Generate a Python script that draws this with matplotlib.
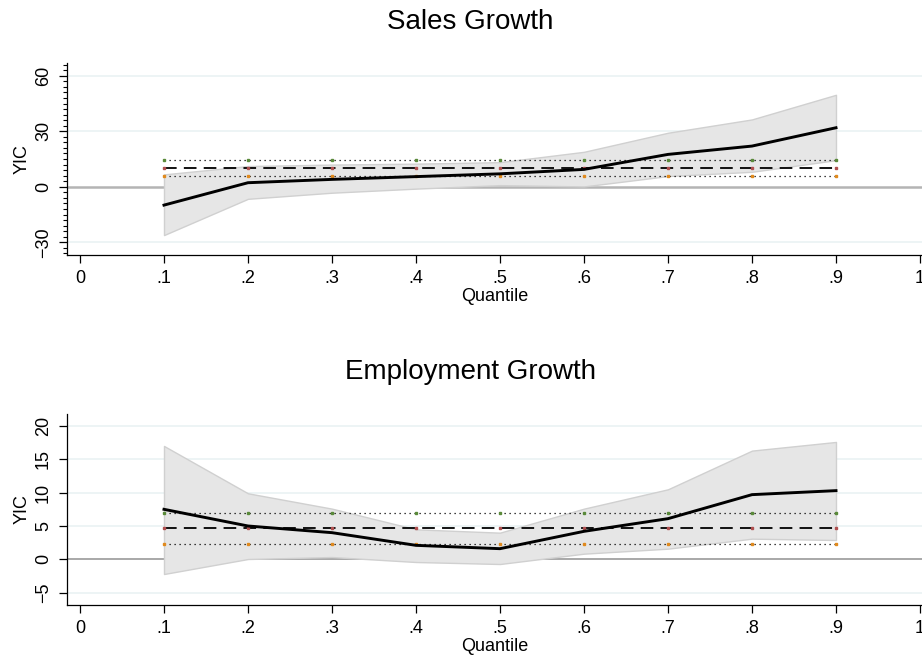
import numpy as np
import matplotlib
matplotlib.use("Agg")
import matplotlib.pyplot as plt
from matplotlib.ticker import MultipleLocator

plt.rcParams['font.family'] = ['Liberation Sans', 'DejaVu Sans']

quantiles = [0.1, 0.2, 0.3, 0.4, 0.5, 0.6, 0.7, 0.8, 0.9]

# Sales growth: quantile estimates and confidence band
sales_coef = [-9.9, 2.2, 4.0, 5.5, 7.0, 9.4, 17.5, 22.0, 31.9]
sales_hi = [6.7, 11.2, 12.0, 12.5, 13.3, 18.9, 29.2, 36.4, 49.7]
sales_lo = [-26.1, -6.5, -3.2, -1.0, 0.9, 0.2, 5.8, 8.1, 14.4]
sales_ols = 10.1
sales_ols_hi = 14.4
sales_ols_lo = 5.6

# Employment growth
emp_coef = [7.5, 5.0, 4.0, 2.1, 1.6, 4.2, 6.1, 9.7, 10.3]
emp_hi = [17.0, 9.9, 7.6, 4.5, 4.0, 7.6, 10.5, 16.3, 17.6]
emp_lo = [-2.2, 0.05, 0.35, -0.4, -0.7, 0.85, 1.6, 3.1, 2.9]
emp_ols = 4.7
emp_ols_hi = 7.0
emp_ols_lo = 2.3

xticks = [0, 0.1, 0.2, 0.3, 0.4, 0.5, 0.6, 0.7, 0.8, 0.9, 1.0]
xticklabels = ["0", ".1", ".2", ".3", ".4", ".5", ".6", ".7", ".8", ".9", "1"]

fig = plt.figure(figsize=(9.22, 6.56), dpi=100)
ax1 = fig.add_axes([0.073, 0.612, 0.927, 0.292])
ax2 = fig.add_axes([0.073, 0.0785, 0.927, 0.2905])


def panel(ax, coef, hi, lo, ols, ols_hi, ols_lo, yticks, ylim, zero_lw, zero_col, minor=None):
    for y in yticks:
        if y != 0:
            ax.axhline(y, color="#eaf2f3", lw=1.2, zorder=0)
    ax.axhline(0, color=zero_col, lw=zero_lw, zorder=1)
    ax.fill_between(quantiles, lo, hi, facecolor="#e6e6e6", edgecolor="#d0d0d0", lw=1.0, zorder=2)
    n = len(quantiles)
    ax.plot(quantiles, [ols_hi] * n, color="black", lw=0.9, ls=(0, (1, 3)), zorder=3)
    ax.plot(quantiles, [ols_lo] * n, color="black", lw=0.9, ls=(0, (1, 3)), zorder=3)
    ax.plot(quantiles, [ols] * n, color="black", lw=1.3, ls=(0, (7, 4)), zorder=3)
    ax.plot(quantiles, [ols_hi] * n, ls="none", marker="s", ms=1.5, color="#5a8a3a", zorder=4)
    ax.plot(quantiles, [ols] * n, ls="none", marker="s", ms=1.5, color="#b05050", zorder=4)
    ax.plot(quantiles, [ols_lo] * n, ls="none", marker="s", ms=1.5, color="#e08a1e", zorder=4)
    ax.plot(quantiles, coef, color="black", lw=2.1, zorder=5)

    ax.set_xlim(-0.0151, 1.0024)
    ax.set_ylim(*ylim)
    ax.set_xticks(xticks)
    ax.set_xticklabels(xticklabels)
    ax.set_yticks(yticks)
    ax.set_yticklabels([str(y).replace("-", "\u2212") for y in yticks], rotation=90, va="center")
    if minor:
        ax.yaxis.set_minor_locator(MultipleLocator(minor))
        ax.tick_params(axis="y", which="minor", length=3, width=0.8)
    ax.tick_params(axis="both", which="major", labelsize=13, length=6, width=0.9, pad=5)
    ax.spines["top"].set_visible(False)
    ax.spines["right"].set_visible(False)
    ax.spines["left"].set_linewidth(0.9)
    ax.spines["bottom"].set_linewidth(0.9)
    ax.set_xlabel("Quantile", fontsize=13, labelpad=1)
    ax.set_ylabel("YIC", fontsize=13, labelpad=3)


panel(ax1, sales_coef, sales_hi, sales_lo, sales_ols, sales_ols_hi, sales_ols_lo,
      [-30, 0, 30, 60], (-36.6, 66.9), 1.8, "#b4b4b4", minor=3)
panel(ax2, emp_coef, emp_hi, emp_lo, emp_ols, emp_ols_hi, emp_ols_lo,
      [-5, 0, 5, 10, 15, 20], (-6.77, 21.8), 1.2, "#9a9a9a")

fig.text(470 / 922, 1 - 22 / 656, "Sales Growth", ha="center", va="center", fontsize=20)
fig.text(470 / 922, 1 - 372 / 656, "Employment Growth", ha="center", va="center", fontsize=20)

fig.savefig("out.png", dpi=100)
